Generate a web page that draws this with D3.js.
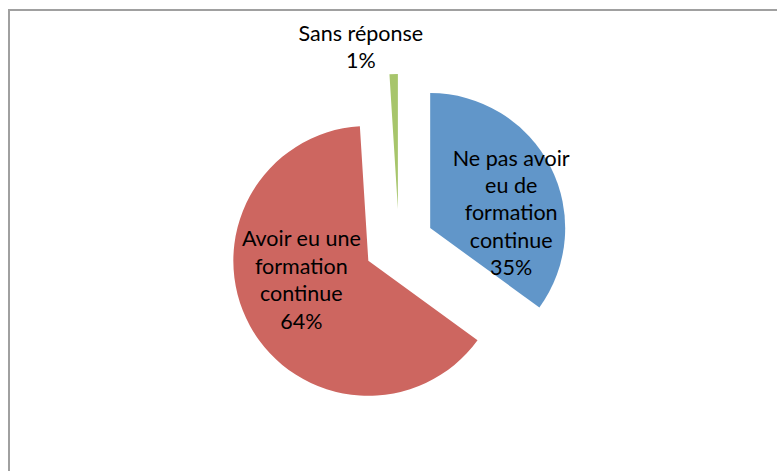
<!DOCTYPE html>
<html><head><meta charset="utf-8">
<script src="https://cdn.jsdelivr.net/npm/d3@7"></script>
<style>html,body{margin:0;padding:0;background:#fff;overflow:hidden}</style>
</head><body>
<svg id="c" width="777" height="471"></svg>
<script>
const categories = ["Ne pas avoir eu de formation continue", "Avoir eu une formation continue", "Sans réponse"];
const values = [35, 64, 1];
const labelLines = [
  ["Ne pas avoir", "eu de", "formation", "continue", "35%"],
  ["Avoir eu une", "formation", "continue", "64%"],
  ["Sans réponse", "1%"]
];
const colors = ["#6196C9", "#CD6660", "#A7C56B"];

const svg = d3.select("#c");
// chart border
svg.append("rect").attr("x", 9).attr("y", 10).attr("width", 800).attr("height", 500)
  .attr("fill", "#fff").attr("stroke", "#A0A0A0").attr("stroke-width", 2);

const cx = 399, cy = 244, R = 135, explode = 35;
const pie = d3.pie().sort(null).value(d => d);
const arcs = pie(values);
const arc = d3.arc().innerRadius(0).outerRadius(R);

// label offsets relative to each exploded slice centre
const labelOffset = [[81, -70], [-67, -22], [-37, -176]];
const lineH = 27.4;

const g = svg.append("g").attr("transform", `translate(${cx},${cy})`);
arcs.forEach((a, i) => {
  const mid = (a.startAngle + a.endAngle) / 2;
  const dx = explode * Math.sin(mid), dy = -explode * Math.cos(mid);
  const sg = g.append("g").attr("transform", `translate(${dx},${dy})`);
  sg.append("path").attr("d", arc(a)).attr("fill", colors[i]);
  const t = sg.append("text")
    .attr("font-family", "Lato, 'Open Sans', sans-serif")
    .attr("font-size", 21.5)
    .attr("fill", "#000")
    .attr("text-anchor", "middle");
  labelLines[i].forEach((ln, k) => {
    t.append("tspan").attr("x", labelOffset[i][0]).attr("y", labelOffset[i][1] + k * lineH)
      .attr("dy", "0.35em").text(ln);
  });
});
</script>
</body></html>
